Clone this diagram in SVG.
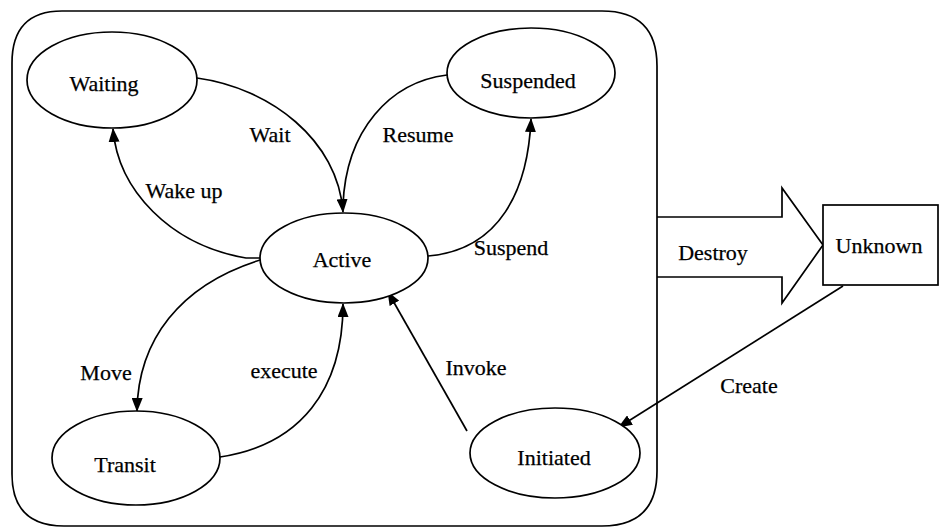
<svg xmlns="http://www.w3.org/2000/svg" width="940" height="529" viewBox="0 0 940 529" font-family="'Liberation Serif', 'DejaVu Serif', serif">
  <style>
    .shape { fill: #fff; stroke: #000; stroke-width: 1.7; }
    .frame { fill: none; stroke: #000; stroke-width: 1.7; }
    .edge { fill: none; stroke: #000; stroke-width: 1.7; }
    text { font-family: 'Liberation Serif', 'DejaVu Serif', serif; font-size: 22px; fill: #000; stroke: #000; stroke-width: 0.25; }
    .mid { text-anchor: middle; }
  </style>
  <defs>
    <marker id="arrow" viewBox="0 0 14 11" refX="13" refY="5.5" markerWidth="14" markerHeight="11" markerUnits="userSpaceOnUse" orient="auto">
      <path d="M0,0 L14,5.5 L0,11 Z" fill="#000"/>
    </marker>
  </defs>
  <rect width="940" height="529" fill="#fff"/>

  <!-- Container holding the live states -->
  <path id="container" class="frame" d="M62,11 L602,11 Q657,11 657,66 L657,471 Q657,526 602,526 L64,526 Q12,526 12,474 L12,63 Q12,11 62,11 Z"/>

  <g id="connectors">
    <!-- Wait: Waiting -> Active -->
    <path class="edge" marker-end="url(#arrow)" d="M197,78 C270,88 338,140 343,212"/>
    <!-- Resume: Suspended -> Active -->
    <path class="edge" d="M447,75 C390,82 346,130 343,205"/>
    <!-- Wake up: Active -> Waiting -->
    <path class="edge" marker-end="url(#arrow)" d="M260,258 L246,258 C170,245 118,190 113,129"/>
    <!-- Suspend: Active -> Suspended -->
    <path class="edge" marker-end="url(#arrow)" d="M428,256 C500,250 528,190 531,119"/>
    <!-- Move: Active -> Transit -->
    <path class="edge" marker-end="url(#arrow)" d="M260,260 C180,285 138,340 137,411"/>
    <!-- execute: Transit -> Active -->
    <path class="edge" marker-end="url(#arrow)" d="M220,457 C300,445 343,390 343,304"/>
    <!-- Invoke: Initiated -> Active -->
    <path class="edge" marker-end="url(#arrow)" d="M467,431 L388,292"/>
    <!-- Create: Unknown -> Initiated -->
    <path class="edge" marker-end="url(#arrow)" d="M843,286 L619,427"/>
    <!-- Destroy: block arrow from the container to Unknown -->
    <path id="destroy" class="frame" d="M657,217 L782,217 L782,188 L823,245 L782,303 L782,277 L657,277"/>
  </g>

  <g id="waiting">
    <ellipse class="shape" cx="112" cy="80" rx="85" ry="48"/>
    <text class="mid" x="104" y="91">Waiting</text>
  </g>
  <g id="suspended">
    <ellipse class="shape" cx="531" cy="73" rx="84" ry="45"/>
    <text class="mid" x="528" y="88">Suspended</text>
  </g>
  <g id="active">
    <ellipse class="shape" cx="344" cy="258" rx="84" ry="45"/>
    <text class="mid" x="342" y="267">Active</text>
  </g>
  <g id="transit">
    <ellipse class="shape" cx="136" cy="458" rx="84" ry="47"/>
    <text class="mid" x="125" y="472">Transit</text>
  </g>
  <g id="initiated">
    <ellipse class="shape" cx="555" cy="453" rx="85" ry="45"/>
    <text class="mid" x="554" y="465">Initiated</text>
  </g>
  <g id="unknown">
    <rect class="shape" x="823" y="205" width="115" height="80"/>
    <text class="mid" x="879" y="253">Unknown</text>
  </g>

  <g id="labels">
    <text class="mid" x="270" y="142">Wait</text>
    <text class="mid" x="418" y="142">Resume</text>
    <text class="mid" x="184" y="198">Wake up</text>
    <text class="mid" x="511" y="255">Suspend</text>
    <text class="mid" x="713" y="260">Destroy</text>
    <text class="mid" x="106" y="380">Move</text>
    <text class="mid" x="284" y="378">execute</text>
    <text class="mid" x="476" y="375">Invoke</text>
    <text class="mid" x="749" y="393">Create</text>
  </g>
</svg>
